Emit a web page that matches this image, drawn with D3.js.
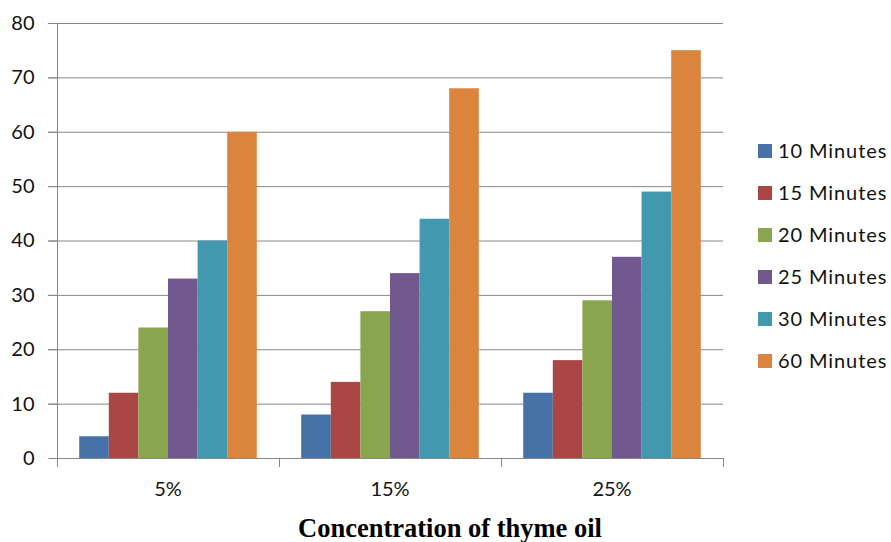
<!DOCTYPE html>
<html><head><meta charset="utf-8">
<script src="https://cdn.jsdelivr.net/npm/d3@7"></script>
<style>body{margin:0;background:#fff}svg{display:block}</style>
</head><body>
<script>
const categories = ["5%", "15%", "25%"];
const series = ["10 Minutes", "15 Minutes", "20 Minutes", "25 Minutes", "30 Minutes", "60 Minutes"];
const values10 = [4, 8, 12];
const values15 = [12, 14, 18];
const values20 = [24, 27, 29];
const values25 = [33, 34, 37];
const values30 = [40, 44, 49];
const values60 = [60, 68, 75];
const yTicks = [0, 10, 20, 30, 40, 50, 60, 70, 80];
const colors = ["#4672A8", "#AA4644", "#89A54E", "#71588F", "#4198AF", "#DB843D"];
const xTitle = "Concentration of thyme oil";

const allValues = [values10, values15, values20, values25, values30, values60];
const W = 891, H = 542;
const mLeft = 57, mRight = 723, mTop = 23, mBottom = 458;
const svg = d3.select("body").append("svg").attr("width", W).attr("height", H);

const y = d3.scaleLinear().domain([0, 80]).range([mBottom, mTop]);
const x0 = d3.scaleBand().domain(categories).range([mLeft, mRight]).paddingInner(0.2).paddingOuter(0.1);
const x1 = d3.scaleBand().domain(series).range([0, x0.bandwidth()]).padding(0);
const color = d3.scaleOrdinal().domain(series).range(colors);
const font = "Lato, 'Open Sans', sans-serif";
const axisCol = "#878787";

// gridlines
svg.append("g").selectAll("line").data(yTicks.filter(d => d > 0)).join("line")
  .attr("x1", mLeft - 9).attr("x2", mRight).attr("y1", d => y(d) + 0.5).attr("y2", d => y(d) + 0.5)
  .attr("stroke", axisCol).attr("stroke-width", 1);

// bars
const rows = [];
categories.forEach((c, i) => series.forEach((s, j) => rows.push({c, s, v: allValues[j][i]})));
svg.append("g").selectAll("rect").data(rows).join("rect")
  .attr("x", d => x0(d.c) + x1(d.s)).attr("width", x1.bandwidth())
  .attr("y", d => y(d.v)).attr("height", d => y(0) - y(d.v))
  .attr("fill", d => color(d.s));

// y axis
const yAxis = svg.append("g").attr("transform", `translate(${mLeft + 0.5},0)`)
  .call(d3.axisLeft(y).tickValues(yTicks).tickSize(9).tickPadding(14));
yAxis.select(".domain").attr("stroke", axisCol).attr("d", `M0,${mTop}V${mBottom}`);
yAxis.selectAll(".tick line").attr("stroke", axisCol);
yAxis.selectAll("text").attr("font-family", font).attr("font-size", 20).attr("fill", "#111");

// x axis
svg.append("line").attr("x1", mLeft).attr("x2", mRight).attr("y1", mBottom + 0.5).attr("y2", mBottom + 0.5).attr("stroke", axisCol);
const bounds = [mLeft, ...categories.map(c => x0(c) + x0.bandwidth() + x0.step() * 0.1)];
svg.append("g").selectAll("line").data(bounds).join("line")
  .attr("x1", d => Math.round(d) + 0.5).attr("x2", d => Math.round(d) + 0.5)
  .attr("y1", mBottom).attr("y2", mBottom + 9).attr("stroke", axisCol);
svg.append("g").selectAll("text").data(categories).join("text")
  .attr("x", d => x0(d) + x0.bandwidth() / 2).attr("y", 496)
  .attr("text-anchor", "middle").attr("font-family", font).attr("font-size", 20).attr("fill", "#111")
  .text(d => d);

svg.append("text").attr("x", 450).attr("y", 537).attr("text-anchor", "middle")
  .attr("font-family", "'Liberation Serif', 'Times New Roman', serif").attr("font-weight", "bold")
  .attr("font-size", 26.5).attr("fill", "#000").text(xTitle);

// legend
const lg = svg.append("g").selectAll("g").data(series).join("g")
  .attr("transform", (d, i) => `translate(758,${144 + i * 42})`);
lg.append("rect").attr("width", 14).attr("height", 14).attr("fill", d => color(d));
lg.append("text").attr("x", 20).attr("y", 14).attr("font-family", font).attr("font-size", 20)
  .attr("letter-spacing", 0.9).attr("fill", "#111").text(d => d);
</script>
</body></html>
